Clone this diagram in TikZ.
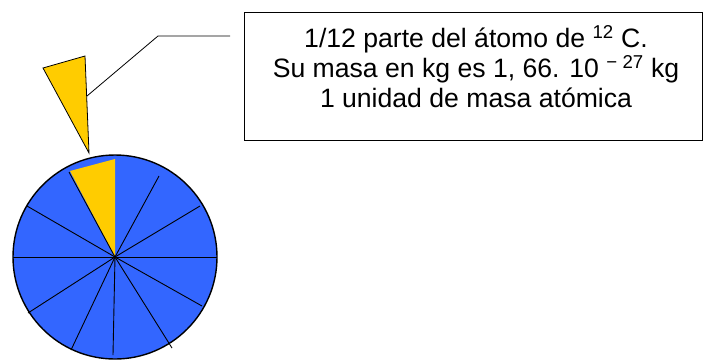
\documentclass[tikz,border=0pt]{standalone}
\usepackage{fontspec}
\setmainfont{Liberation Sans}
\definecolor{pieblue}{RGB}{51,102,255}
\definecolor{pieyellow}{RGB}{255,204,0}
\tikzset{
  spoke/.style={line width=0.9pt},
  label box/.style={draw, line width=0.9pt, minimum width=458pt, minimum height=128pt, inner sep=0pt},
}
\begin{document}
\begin{tikzpicture}[x=1pt, y=-1pt]
\useasboundingbox (0,0) rectangle (703,360);
% the atom cut in twelve parts
\coordinate (c) at (115,257);
\fill[pieblue] (c) circle (102);
\fill[pieyellow] (c) -- (70,171) -- (115,159) -- cycle;
\foreach \p in {(159,176),(200,206),(217,257),(202,306),(172,348),(113,355),
                (71,350),(28,313),(13,257),(27,206),(69,172)}
  \draw[spoke] (c) -- \p;
\draw[line width=1.4pt] (c) circle (102);
% the part taken out
\filldraw[fill=pieyellow, line width=0.8pt] (43,68) -- (85,56) -- (89,153) -- cycle;
\coordinate (tip) at (87,96);
\coordinate (bend) at (158,36);
\coordinate (lend) at (230,36);
\draw[line width=0.8pt] (tip) -- (bend) -- (lend);
\node[label box] (box) at (473,76) {};
\node[align=center, font=\fontsize{26.6}{30}\selectfont] (txt) at (476,67)
  {1/12 parte del átomo de \textsuperscript{12} C.\\
   Su masa en kg es 1, 66. 10 \textsuperscript{− 27} kg\\
   1 unidad de masa atómica};
\end{tikzpicture}
\end{document}
